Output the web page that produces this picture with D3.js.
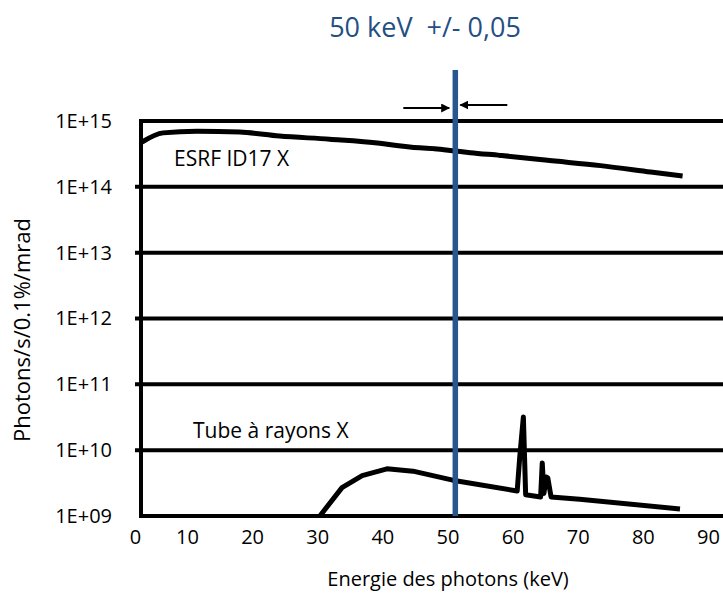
<!DOCTYPE html>
<html>
<head>
<meta charset="utf-8">
<script src="https://cdn.jsdelivr.net/npm/d3@7"></script>
<style>
  html, body { margin: 0; padding: 0; background: #fff; }
  svg { display: block; }
  text { font-family: "Open Sans", "Noto Sans", sans-serif; }
</style>
</head>
<body>
<svg id="chart" width="723" height="601"></svg>
<script>
// ---- data ----
const xTickValues = [0, 10, 20, 30, 40, 50, 60, 70, 80, 90];
const yTickValues = [1e9, 1e10, 1e11, 1e12, 1e13, 1e14, 1e15];
const yTickLabels = ["1E+09", "1E+10", "1E+11", "1E+12", "1E+13", "1E+14", "1E+15"];

const esrfEnergy = [1.35, 5.4, 11.5, 18.1, 24.2, 31.9, 39.6, 42.5, 44.5, 48, 51.2, 53.5, 58.1, 61.2, 65.0, 73.5, 81.2, 86.1];
const esrfFlux   = [4.8e14, 6.6e14, 7.0e14, 6.8e14, 5.9e14, 5.3e14, 4.6e14, 4.2e14, 4.0e14, 3.8e14, 3.5e14, 3.3e14, 3.0e14, 2.8e14, 2.55e14, 2.1e14, 1.68e14, 1.46e14];

const tubeEnergy = [30.4, 33.8, 36.9, 40.7, 44.7, 50.8, 60.7, 61.1, 61.65, 62.0, 64.3, 64.55, 64.8, 65.2, 65.4, 65.9, 70.3, 85.7];
const tubeFlux   = [1.0e9, 2.7e9, 4.1e9, 5.2e9, 4.8e9, 3.5e9, 2.4e9, 8.0e9, 3.2e10, 2.1e9, 1.95e9, 6.4e9, 2.2e9, 3.9e9, 3.8e9, 1.95e9, 1.8e9, 1.28e9];

const markerEnergy = 51.2;
const titleText = "50 keV  +/- 0,05";
const seriesLabels = ["ESRF ID17 X", "Tube à rayons X"];
const xTitle = "Energie des photons (keV)";
const yTitle = "Photons/s/0.1%/mrad";

// ---- layout ----
const svg = d3.select("#chart");
const left = 141, right = 723;
const x = d3.scaleLinear().domain([0, 10, 90]).range([135, 187, 708]);
const y = d3.scaleLog().domain([1e9, 1e15]).range([516, 121]);

// gridlines
svg.append("g").selectAll("line").data(yTickValues).join("line")
  .attr("x1", d => (d === 1e9 || d === 1e15) ? left : 135)
  .attr("x2", right)
  .attr("y1", d => y(d)).attr("y2", d => y(d))
  .attr("stroke", "#000").attr("stroke-width", 4);

// left axis line
svg.append("line")
  .attr("x1", left).attr("x2", left)
  .attr("y1", y(1e15) - 2).attr("y2", y(1e9) + 2)
  .attr("stroke", "#000").attr("stroke-width", 4);

// y tick labels
const yAxis = d3.axisLeft(y).tickValues(yTickValues)
  .tickFormat((d, i) => yTickLabels[i]).tickSize(0).tickPadding(0);
const gy = svg.append("g").attr("transform", "translate(112,0)").call(yAxis);
gy.select(".domain").remove();
gy.selectAll("text").attr("font-size", 20).attr("fill", "#000")
  .style("font-family", "'Open Sans', sans-serif");

// x tick labels
const xAxis = d3.axisBottom(x).tickValues(xTickValues).tickSize(0).tickPadding(0);
const gx = svg.append("g").attr("transform", "translate(0,530)").call(xAxis);
gx.select(".domain").remove();
gx.selectAll("text").attr("font-size", 20).attr("fill", "#000")
  .style("font-family", "'Open Sans', sans-serif");

// curves
const line = d3.line().x(d => x(d[0])).y(d => y(d[1]));
svg.append("path")
  .datum(esrfEnergy.map((e, i) => [e, esrfFlux[i]]))
  .attr("d", line.curve(d3.curveMonotoneX))
  .attr("fill", "none").attr("stroke", "#000").attr("stroke-width", 5)
  .attr("stroke-linejoin", "round");
svg.append("path")
  .datum(tubeEnergy.map((e, i) => [e, tubeFlux[i]]))
  .attr("d", d3.line().x(d => x(d[0])).y(d => y(d[1])))
  .attr("fill", "none").attr("stroke", "#000").attr("stroke-width", 5)
  .attr("stroke-linejoin", "round");

// marker line
svg.append("line")
  .attr("x1", x(markerEnergy)).attr("x2", x(markerEnergy))
  .attr("y1", 70).attr("y2", y(1e9))
  .attr("stroke", "#27578e").attr("stroke-width", 5.5);

// arrows
const defs = svg.append("defs");
defs.append("marker").attr("id", "ah").attr("viewBox", "0 0 10 10")
  .attr("refX", 9).attr("refY", 5).attr("markerWidth", 5).attr("markerHeight", 5)
  .attr("markerUnits", "strokeWidth").attr("orient", "auto")
  .append("path").attr("d", "M0,0 L10,5 L0,10 Z").attr("fill", "#000");
const mx = x(markerEnergy);
svg.append("line").attr("x1", mx - 52).attr("x2", mx - 6).attr("y1", 108).attr("y2", 108)
  .attr("stroke", "#000").attr("stroke-width", 1.8).attr("marker-end", "url(#ah)");
svg.append("line").attr("x1", mx + 52).attr("x2", mx + 5).attr("y1", 105).attr("y2", 105)
  .attr("stroke", "#000").attr("stroke-width", 1.8).attr("marker-end", "url(#ah)");

// title
svg.append("text").attr("x", 425).attr("y", 37).attr("text-anchor", "middle")
  .attr("font-size", 27).attr("fill", "#244f84").style("white-space", "pre")
  .text(titleText);

// series labels
svg.append("text").attr("x", 174).attr("y", 166).attr("font-size", 21).attr("fill", "#000")
  .text(seriesLabels[0]);
svg.append("text").attr("x", 193).attr("y", 438).attr("font-size", 21).attr("fill", "#000")
  .text(seriesLabels[1]);

// axis titles
svg.append("text").attr("x", 448).attr("y", 586).attr("text-anchor", "middle")
  .attr("font-size", 20).attr("fill", "#000").text(xTitle);
svg.append("text").attr("transform", "translate(30,330) rotate(-90)")
  .attr("text-anchor", "middle").attr("font-size", 22).attr("fill", "#000").text(yTitle);
</script>
</body>
</html>
